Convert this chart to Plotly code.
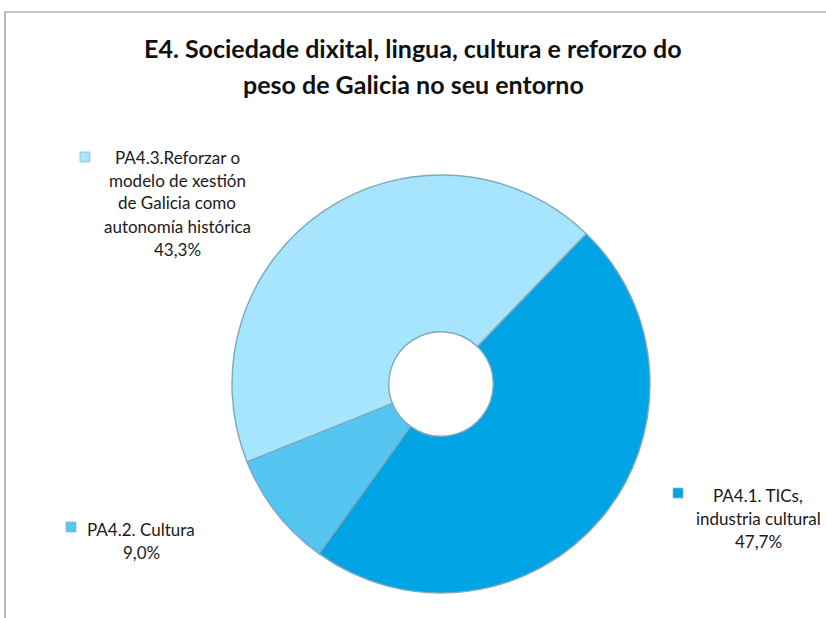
"""Donut chart: E4 priority areas share."""

import plotly.graph_objects as go

W, H = 826, 618

title_lines = ["E4. Sociedade dixital, lingua, cultura e reforzo do",
               "peso de Galicia no seu entorno"]

labels = ["PA4.1. TICs, industria cultural", "PA4.2. Cultura",
          "PA4.3.Reforzar o modelo de xestión de Galicia como autonomía histórica"]
values = [47.7, 9.0, 43.3]
colors = ["#00a4e4", "#55c5f1", "#a6e5fd"]

# label text blocks as drawn (line breaks as in the original)
label_lines = [
    ["PA4.1. TICs,", "industria cultural", "47,7%"],
    ["PA4.2. Cultura", "9,0%"],
    ["PA4.3.Reforzar o", "modelo de xestión", "de Galicia como", "autonomía histórica", "43,3%"],
]
# text block centre x / first line y, marker square position (pixels from top-left)
label_pos = [(758, 495, 678, 493), (141, 529, 71, 527), (177, 157, 85, 157)]
LINE_GAP = 23


def px(x):
    return x / W


def py(y):
    return 1 - y / H


fig = go.Figure()
fig.add_trace(
    go.Pie(
        labels=labels,
        values=values,
        hole=0.25,
        sort=False,
        direction="clockwise",
        rotation=44,
        marker=dict(colors=colors, line=dict(color="#7fa9bb", width=1.4)),
        textinfo="none",
        hoverinfo="label+percent",
        domain=dict(x=[px(232), px(650)], y=[py(593), py(175)]),
        showlegend=False,
    )
)

annotations = []
for i, line in enumerate(title_lines):
    annotations.append(
        dict(
            x=0.5, y=py(48 + i * 36), xref="paper", yref="paper",
            text=f"<b>{line}</b>", showarrow=False, xanchor="center", yanchor="middle",
            font=dict(family="Lato, Open Sans, sans-serif", size=25, color="#111111"),
        )
    )

shapes = []
for lines, (cx, y0, mx, my), col in zip(label_lines, label_pos, colors):
    for i, line in enumerate(lines):
        annotations.append(
            dict(
                x=px(cx), y=py(y0 + i * LINE_GAP), xref="paper", yref="paper",
                text=line, showarrow=False, xanchor="center", yanchor="middle",
                font=dict(family="Lato, Open Sans, sans-serif", size=17, color="#1a1a1a"),
            )
        )
    shapes.append(
        dict(
            type="rect", xref="paper", yref="paper",
            x0=px(mx - 5), x1=px(mx + 5), y0=py(my + 5), y1=py(my - 5),
            fillcolor=col, line=dict(color="#9ab8c6", width=0.8),
        )
    )

# chart frame
shapes.append(
    dict(
        type="rect", xref="paper", yref="paper",
        x0=px(5), x1=px(W + 20), y0=py(H + 20), y1=py(12),
        line=dict(color="#8c8c8c", width=1.2), fillcolor="rgba(0,0,0,0)",
    )
)

fig.update_layout(
    width=W,
    height=H,
    margin=dict(l=0, r=0, t=0, b=0),
    paper_bgcolor="white",
    plot_bgcolor="white",
    annotations=annotations,
    shapes=shapes,
)

fig.write_html(
    "out.html",
    config={"displayModeBar": False},
    post_script="document.body.style.margin='0';document.body.style.overflow='hidden';",
)
